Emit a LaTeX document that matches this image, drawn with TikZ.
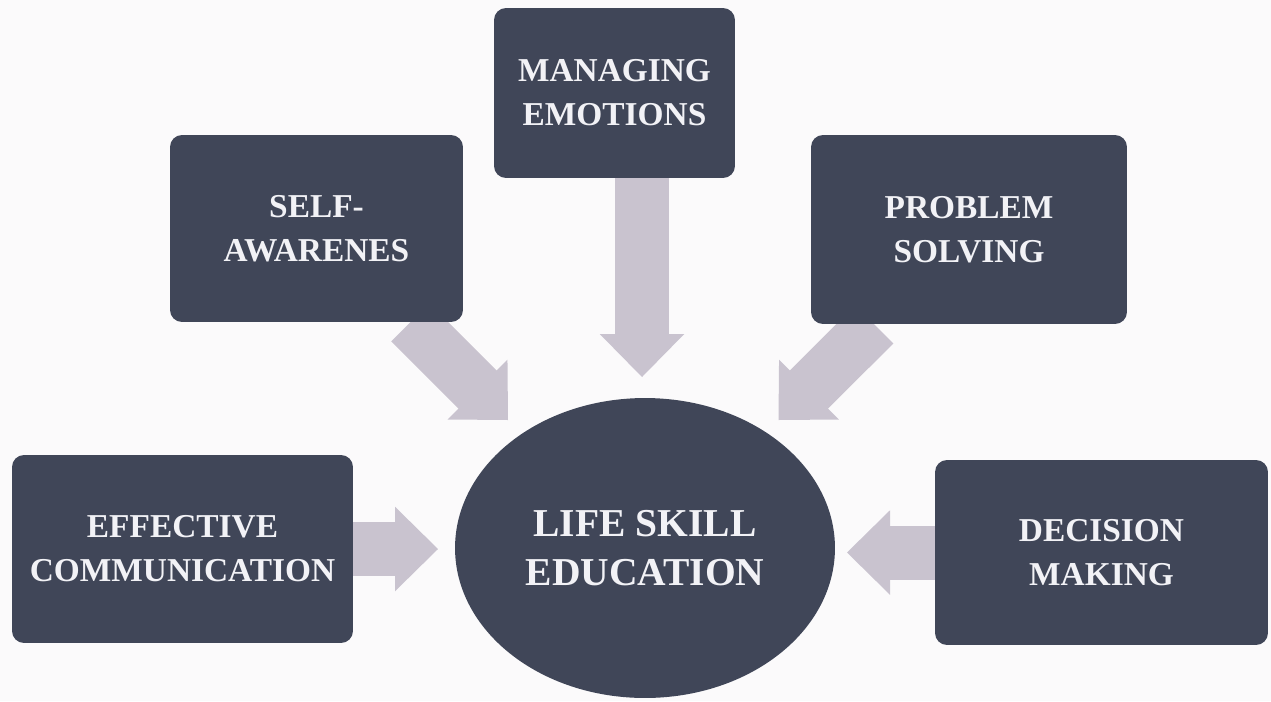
\documentclass[tikz,border=0pt]{standalone}
\usepackage{fontspec}
\setmainfont{Liberation Serif}
\usetikzlibrary{shapes.geometric,arrows.meta}

\definecolor{slate}{RGB}{64,70,88}
\definecolor{lilac}{RGB}{201,195,207}
\definecolor{paper}{RGB}{251,250,251}
\definecolor{chalk}{RGB}{242,242,246}

\pgfdeclarelayer{background}
\pgfsetlayers{background,main}

\begin{document}
\begin{tikzpicture} [
            x=0.02cm,
            y=-0.02cm,
            skill/.style = {rectangle,rounded corners=0.24cm,fill=slate,text=chalk,align=center,inner sep=0pt,
                            font=\bfseries\fontsize{19}{25}\selectfont},
            core/.style = {ellipse,fill=slate,text=chalk,align=center,inner sep=0pt,
                           minimum width=7.6cm,minimum height=6cm,font=\bfseries\fontsize{22.5}{28}\selectfont},
            flow/.style = {draw=lilac,line width=1.08cm,-{Triangle[length=0.86cm,width=1.68cm,line width=1.5pt]}}
        ]
        \useasboundingbox (0,0) rectangle (1271,701);
        % First we draw the skill boxes
        \foreach \pos/\name/\w/\h/\txt in {
                {(614.5,93)/emo/4.82/3.40/{MANAGING\\EMOTIONS}},
                {(316.5,228.5)/self/5.86/3.74/{SELF-\\AWARENES}},
                {(969,229.5)/prob/6.32/3.78/{PROBLEM\\SOLVING}},
                {(182.5,549)/comm/6.82/3.76/{EFFECTIVE\\COMMUNICATION}},
                {(1101.5,552.5)/dec/6.66/3.70/{DECISION\\MAKING}}}
            \node[skill,minimum width=\w cm,minimum height=\h cm] (\name) at \pos {\txt};
        % the centre ellipse
        \node[core] (life) at (645,548) {LIFE SKILL\\EDUCATION};
        % where the arrow tips end (diagonals at 45 degrees from the box centres)
        \coordinate (inN) at (642,377);
        \coordinate (inNW) at (508,420);
        \coordinate (inNE) at (778.5,420);
        \coordinate (inW) at (438,549);
        \coordinate (inE) at (847,552.5);
        \begin{pgfonlayer}{background}
            \fill[paper] (0,0) rectangle (1271,701);
            \foreach \source / \dest in {self/inNW, prob/inNE, comm/inW, dec/inE}
                \path[flow] (\source) -- (\dest);
            \path[flow] (emo.center -| inN) -- (inN);
        \end{pgfonlayer}
    \end{tikzpicture}
\end{document}
